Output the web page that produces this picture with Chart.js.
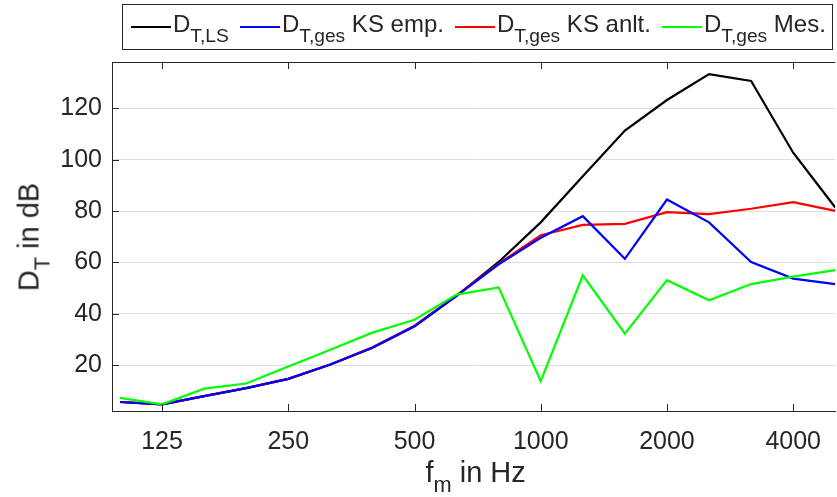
<!DOCTYPE html>
<html>
<head>
<meta charset="utf-8">
<script src="https://cdn.jsdelivr.net/npm/chart.js@4.4.1/dist/chart.umd.min.js"></script>
<style>
  body { margin: 0; background: #fff; }
  #wrap { position: relative; width: 837px; height: 497px; overflow: hidden; font-family: "Liberation Sans", Arial, sans-serif; color: #262626; }
  #chart { position: absolute; left: 0; top: 0; }
  .lbl { position: absolute; white-space: nowrap; }
  .lbl sub { font-size: 0.75em; vertical-align: -0.5em; line-height: 0; }
  #legend { position: absolute; left: 122px; top: 4px; width: 709px; height: 44px; border: 1px solid #262626; background: #fff; }
  .item { position: absolute; top: 0; height: 44px; font-size: 24px; line-height: 44px; white-space: nowrap; }
  .item .ln { position: absolute; top: 21px; width: 40px; height: 2px; }
  .item .tx { position: absolute; left: 42px; top: -3px; }
  .item sub { font-size: 0.8em; vertical-align: -0.5em; line-height: 0; }
</style>
</head>
<body>
<div id="wrap">
  <canvas id="chart" width="837" height="497"></canvas>
  <div id="legend"></div>
  <div class="lbl" id="ytitle" style="font-size:29px;">D<sub>T</sub> in dB</div>
  <div class="lbl" id="xtitle" style="font-size:29px;">f<sub>m</sub> in Hz</div>
</div>
<script>
// third-octave band centres, plotted at their index 1..18
const bands = ['100', '125', '160', '200', '250', '315', '400', '500', '630', '800',
               '1000', '1250', '1600', '2000', '2500', '3150', '4000', '5000'];
const xTickIdx = [2, 5, 8, 11, 14, 17];
const yTicks = [20, 40, 60, 80, 100, 120];

const dLS     = [5.7, 4.8, 8.0, 11.1, 14.7, 20.3, 26.8, 35.2, 47.0, 60.2, 75.6, 93.5, 111.3, 123.2, 133.3, 130.6, 102.7, 81.4];
const dKSemp  = [5.7, 4.8, 8.0, 11.1, 14.7, 20.3, 26.8, 35.2, 47.0, 59.3, 69.6, 78.0, 61.4, 84.5, 75.6, 60.2, 53.7, 51.6];
const dKSanlt = [5.7, 4.8, 8.0, 11.1, 14.7, 20.3, 27.0, 35.4, 47.2, 59.5, 70.6, 74.6, 75.0, 79.6, 78.8, 80.9, 83.5, 80.1];
const dMes    = [7.3, 4.8, 10.9, 12.9, 19.5, 26.0, 32.7, 37.7, 47.5, 50.3, 13.8, 55.0, 32.3, 53.1, 45.3, 51.6, 54.5, 57.0];

const series = [
  { name: 'D<sub>T,LS</sub>', data: dLS, color: '#000000', order: 4, x: 131 },
  { name: 'D<sub>T,ges</sub> KS emp.', data: dKSemp, color: '#0000ff', order: 2, x: 240 },
  { name: 'D<sub>T,ges</sub> KS anlt.', data: dKSanlt, color: '#ff0000', order: 3, x: 455 },
  { name: 'D<sub>T,ges</sub> Mes.', data: dMes, color: '#00ff00', order: 1, x: 662 }
];

const axisColor = '#262626';
const tickFont = { family: '"Liberation Sans", Arial, sans-serif', size: 25 };

// legend with subscripts as html
const leg = document.getElementById('legend');
series.forEach(s => {
  const it = document.createElement('div');
  it.className = 'item';
  it.style.left = (s.x - 123) + 'px';
  it.innerHTML = '<span class="ln" style="background:' + s.color + '"></span><span class="tx">' + s.name + '</span>';
  leg.appendChild(it);
});

const innerTicks = {
  id: 'innerTicks',
  afterDraw(chart) {
    const { ctx, chartArea: a, scales } = chart;
    ctx.save();
    ctx.strokeStyle = axisColor;
    ctx.lineWidth = 1;
    ctx.beginPath();
    ctx.moveTo(a.left, a.top + 0.5);
    ctx.lineTo(a.right, a.top + 0.5);
    xTickIdx.forEach(i => {
      const x = Math.round(scales.x.getPixelForValue(i)) + 0.5;
      ctx.moveTo(x, a.bottom);
      ctx.lineTo(x, a.bottom - 7);
      ctx.moveTo(x, a.top);
      ctx.lineTo(x, a.top + 7);
    });
    yTicks.forEach(v => {
      const y = Math.round(scales.y.getPixelForValue(v)) + 0.5;
      ctx.moveTo(a.left, y);
      ctx.lineTo(a.left + 7, y);
    });
    ctx.stroke();
    ctx.restore();

    const yt = document.getElementById('ytitle');
    yt.style.left = '29px';
    yt.style.top = ((a.top + a.bottom) / 2) + 'px';
    yt.style.transform = 'translate(-50%, -50%) rotate(-90deg)';
    const xt = document.getElementById('xtitle');
    xt.style.left = ((a.left + a.right) / 2 + 2) + 'px';
    xt.style.top = '472px';
    xt.style.transform = 'translate(-50%, -50%)';
  }
};

new Chart(document.getElementById('chart'), {
  type: 'line',
  data: {
    datasets: series.map(s => ({
      label: s.name,
      data: s.data.map((v, i) => ({ x: i + 1, y: v })),
      borderColor: s.color,
      borderWidth: 2.2,
      pointRadius: 0,
      tension: 0,
      fill: false,
      order: s.order
    }))
  },
  options: {
    responsive: false,
    animation: false,
    devicePixelRatio: 1,
    layout: { padding: { top: 62, right: 0, left: 0, bottom: 0 } },
    plugins: {
      legend: { display: false },
      tooltip: { enabled: false }
    },
    scales: {
      x: {
        type: 'linear',
        min: 0.81,
        max: 18,
        afterFit(scale) { scale.height = 86; },
        afterBuildTicks(scale) { scale.ticks = xTickIdx.map(v => ({ value: v })); },
        ticks: {
          font: tickFont,
          color: axisColor,
          padding: 16,
          maxRotation: 0,
          autoSkip: false,
          callback: v => bands[v - 1]
        },
        grid: { drawOnChartArea: false, drawTicks: false },
        border: { display: true, color: axisColor, width: 1 }
      },
      y: {
        min: 2.2,
        max: 138,
        afterFit(scale) { scale.width = 112; },
        afterBuildTicks(scale) { scale.ticks = yTicks.map(v => ({ value: v })); },
        ticks: { font: tickFont, color: axisColor, padding: 10 },
        grid: { color: '#dfdfdf', lineWidth: 1, drawTicks: false },
        border: { display: true, color: axisColor, width: 1 }
      }
    }
  },
  plugins: [innerTicks]
});
</script>
</body>
</html>
